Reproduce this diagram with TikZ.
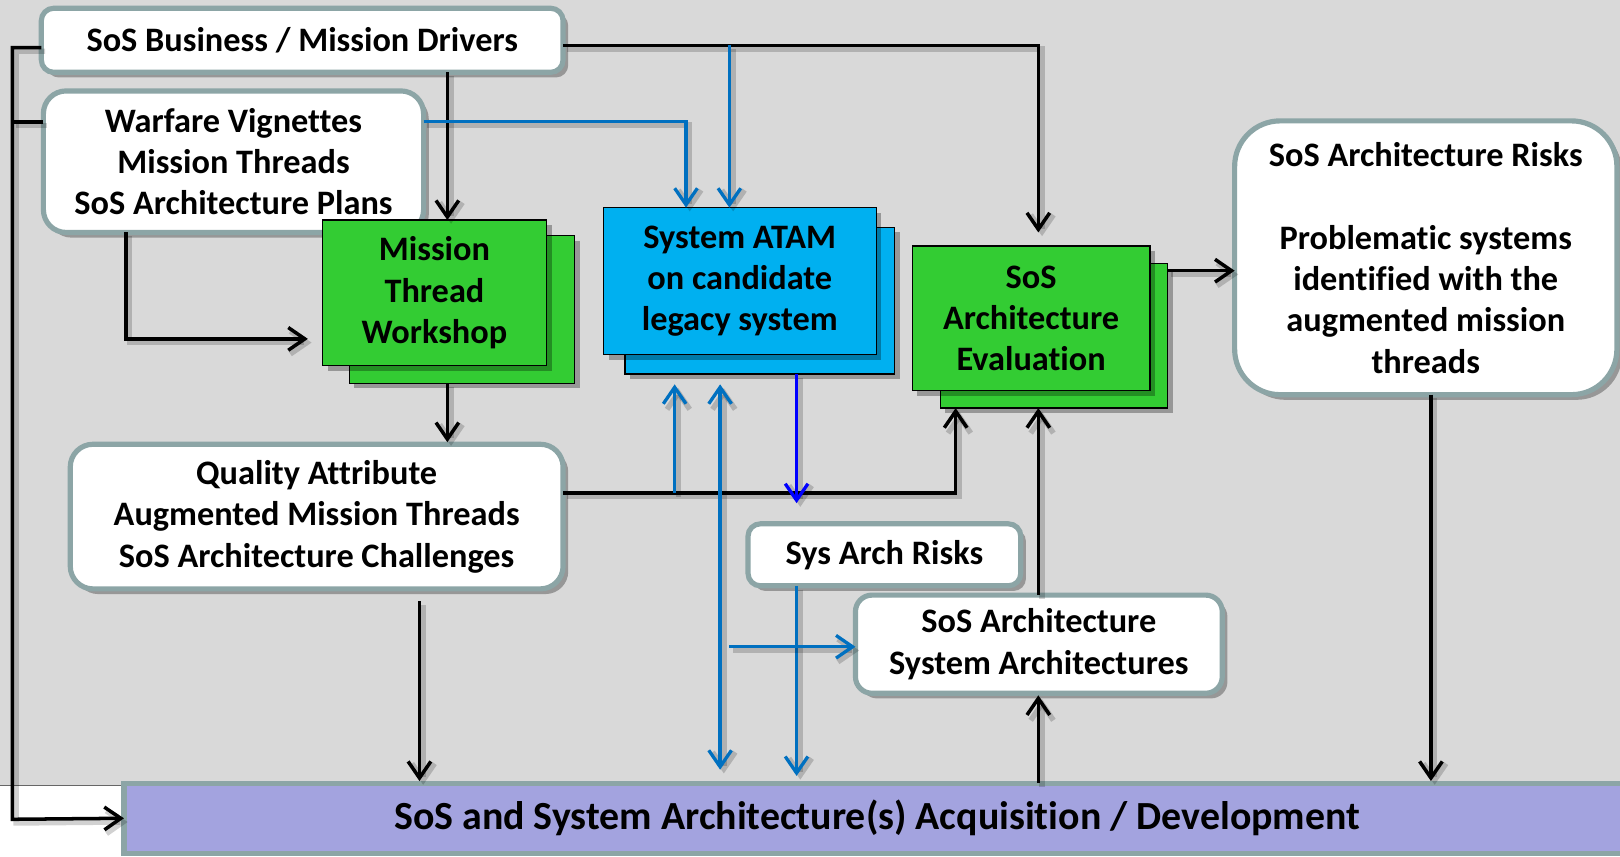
\documentclass[tikz,border=0pt]{standalone}
\usepackage{fontspec}
\setmainfont{Carlito}[Ligatures=NoCommon]
\usetikzlibrary{arrows.meta,shadows,calc}
\definecolor{bg}{HTML}{D9D9D9}
\definecolor{edge}{HTML}{8CA5A6}
\definecolor{grn}{HTML}{33CC33}
\definecolor{cyn}{HTML}{00B0F0}
\definecolor{lav}{HTML}{A3A3DF}
\definecolor{lblu}{HTML}{0070C0}
\definecolor{dblu}{HTML}{0000FF}
\begin{document}
\begin{tikzpicture}[x=0.5pt,y=-0.5pt,
  txt/.style={font=\fontsize{16.6}{20}\selectfont\bfseries, align=center, inner sep=0pt, outer sep=0pt},
  shad/.style={drop shadow={shadow xshift=2.5pt, shadow yshift=-2.5pt, opacity=0.3, fill=black}},
  wbox/.style={txt, draw=edge, line width=2.5pt, fill=white, shad},
  gbox/.style={txt, draw=black, line width=0.6pt, fill=grn, shad},
  cbox/.style={txt, draw=black, line width=0.6pt, fill=cyn, shad},
  tip/.style={-{Straight Barb[length=8pt,width=11pt]}},
  lshad/.style={preaction={draw=black, opacity=0.18, line width=2.6pt, transform canvas={shift={(1.8pt,-1.8pt)}}}},
  blk/.style={draw=black, line width=1.7pt, lshad},
  blu/.style={draw=lblu, line width=1.6pt, lshad},
  dbl/.style={draw=dblu, line width=1.6pt, lshad}
]
\useasboundingbox (0,0) rectangle (1568,829);
\fill[bg] (0,0) rectangle (1568,760);
\draw[black!60, line width=0.5pt] (0,760) -- (120,760);

% nodes
\node[wbox, rounded corners=6pt, minimum width=252.5pt, minimum height=31pt] (biz) at (292.5,39) {SoS Business / Mission Drivers};
\node[wbox, rounded corners=11pt, minimum width=184pt, minimum height=68.5pt] (war) at (226,156.5) {Warfare Vignettes\\Mission Threads\\SoS Architecture Plans};

\node[gbox, minimum width=109pt, minimum height=71.5pt] (mtb) at (447,299.5) {};
\node[gbox, minimum width=108.5pt, minimum height=70.5pt] (mt) at (420.5,283.5) {Mission\\Thread\\Workshop};

\node[cbox, minimum width=130.5pt, minimum height=71pt] (atb) at (735.5,291) {};
\node[cbox, minimum width=132pt, minimum height=71pt] (at) at (716,272) {System ATAM\\on candidate\\legacy system};

\node[gbox, minimum width=110pt, minimum height=70pt] (evb) at (1020,325) {};
\node[gbox, minimum width=115pt, minimum height=70pt] (ev) at (998,308) {SoS\\Architecture\\Evaluation};

\node[wbox, rounded corners=22pt, minimum width=185pt, minimum height=132.5pt] (rk) at (1380,249.5) {SoS Architecture Risks\\[20pt]Problematic systems\\identified with the\\augmented mission\\threads};

\node[wbox, rounded corners=11pt, minimum width=238.5pt, minimum height=70pt] (qa) at (306.5,500) {Quality Attribute\\Augmented Mission Threads\\SoS Architecture Challenges};

\node[wbox, rounded corners=6pt, minimum width=132pt, minimum height=30pt] (sar) at (856,537) {Sys Arch Risks};
\node[wbox, rounded corners=8pt, minimum width=177.5pt, minimum height=47.5pt] (soa) at (1005.5,623.5) {SoS Architecture\\System Architectures};

\node[txt, draw=edge, line width=2.5pt, fill=lav, minimum width=729pt, minimum height=34pt, font=\fontsize{19.3}{22}\selectfont\bfseries] (bot) at (849,792) {SoS and System Architecture(s) Acquisition / Development};

% coordinates
\coordinate (lb) at (12,793);
\coordinate (wl) at ($(war.west)+(0,-38.5)$);
\coordinate (jb) at (706,44);
\coordinate (hb) at (653,477);
\coordinate (jd) at (697,745);
\coordinate (kd) at (771,487);
\coordinate (ms) at (706,626);

% black connectors
\draw[blk,tip] ($(biz.west)+(0,7)$) -| (lb) -- (bot.west);
\draw[blk] (wl) -- (wl -| lb);
\draw[blk,tip] (biz.south -| 433,0) -- (mt.north -| 433,0);
\draw[blk,tip] ($(biz.east)+(0,5)$) -| ($(ev.north)+(7,-13)$);
\draw[blk,tip] (war.south -| 122,0) |- ($(mt.west)+(-14,44.5)$);
\draw[blk,tip] (mtb.south -| 433,0) -- ($(qa.north -| 433,0)+(0,-2)$);
\draw[blk,tip] ($(qa.east)+(0,-23)$) -| (evb.south -| 925,0);
\draw[blk,tip] ($(qa.south -| 406,0)+(0,12)$) -- ($(bot.north -| 406,0)+(0,-2)$);
\draw[blk,tip] (soa.north -| 1005,0) -- (evb.south -| 1005,0);
\draw[blk,tip] (bot.north -| 1005,0) -- ($(soa.south -| 1005,0)+(0,2)$);
\draw[blk,tip] (evb.east |- 0,262) -- (rk.west |- 0,262);
\draw[blk,tip] (rk.south -| 1385,0) -- ($(bot.north -| 1385,0)+(0,-2)$);

% blue connectors
\draw[blu,tip] (jb) -- (at.north -| jb);
\draw[blu,tip] ($(war.east)+(0,-39)$) -| (at.north -| 664,0);
\draw[blu,tip] (hb) -- ($(atb.south -| hb)+(0,10)$);
\draw[blu,{Straight Barb[length=8pt,width=11pt]}-{Straight Barb[length=8pt,width=11pt]}] ($(atb.south -| jd)+(0,10)$) -- (jd);
\draw[dbl,tip] (atb.south -| kd) -- (kd);
\draw[blu,tip] (sar.south -| 771,0) -- ($(bot.north -| 771,0)+(0,-7)$);
\draw[blu,tip] (ms) -- (soa.west |- ms);
\end{tikzpicture}
\end{document}
